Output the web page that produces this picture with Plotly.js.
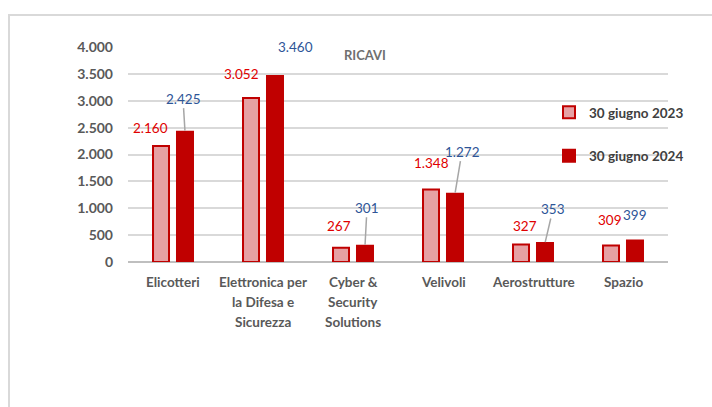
<!DOCTYPE html>
<html><head><meta charset="utf-8">
<script src="https://cdn.plot.ly/plotly-3.0.1.min.js"></script>
<style>
html,body{margin:0;padding:0;background:#fff;overflow:hidden}
#frame{position:absolute;left:8px;top:14px;width:720px;height:410px;border:2px solid #d9d9d9;box-sizing:border-box}
#chart{position:absolute;left:0;top:0;width:712px;height:407px}
</style></head>
<body><div id="frame"></div><div id="chart"></div>
<script>
const categories = ["Elicotteri", "Elettronica per la Difesa e Sicurezza", "Cyber & Security Solutions", "Velivoli", "Aerostrutture", "Spazio"];
const categoryLines = [["Elicotteri"], ["Elettronica per", "la Difesa e", "Sicurezza"], ["Cyber &", "Security", "Solutions"], ["Velivoli"], ["Aerostrutture"], ["Spazio"]];
const values2023 = [2160, 3052, 267, 1348, 327, 309];
const values2024 = [2425, 3460, 301, 1272, 353, 399];
const seriesNames = ["30 giugno 2023", "30 giugno 2024"];
const chartTitle = "RICAVI";

// label placement offsets (pixels) : [dx, dy, leaderLine]
const off2023 = [[-11,-18,false],[-10,-24,false],[-2,-22,false],[0,-27,false],[4,-18,false],[-1,-25,false]];
const off2024 = [[-2,-33,true],[20,-29,false],[2,-38,true],[7,-42,true],[8,-34,true],[0,-26,false]];

function fmt(v){ return String(v).replace(/\B(?=(\d{3})+(?!\d))/g, '.'); }

const FONT = "Lato, 'Open Sans', sans-serif";
const traces = [
  {type:'bar', name:seriesNames[0], x:categories, y:values2023, legendgroup:'a',
   marker:{color:'#E6A1A4', line:{color:'#C00000', width:2}}, hoverinfo:'skip'},
  {type:'bar', name:seriesNames[1], x:categories, y:values2024, legendgroup:'b',
   marker:{color:'#C00000', line:{color:'#C00000', width:2}}, hoverinfo:'skip'}
];

const annotations = [];
const barShift = 12;
categories.forEach((c,i)=>{
  [[values2023, off2023, -barShift, '#E00000'],[values2024, off2024, barShift, '#2E5597']].forEach(([vals, offs, xs, col])=>{
    const o = offs[i];
    if (o[2]) {
      annotations.push({x:c, y:vals[i], xref:'x', yref:'y', xshift:xs, text:fmt(vals[i]),
        showarrow:true, arrowhead:0, arrowwidth:1.5, arrowcolor:'#A6A6A6', ax:o[0], ay:o[1], standoff:1,
        font:{family:FONT, size:13.5, color:col}});
    } else {
      annotations.push({x:c, y:vals[i], xref:'x', yref:'y', xshift:xs+o[0], yshift:-o[1], text:fmt(vals[i]),
        showarrow:false, xanchor:'center', yanchor:'middle',
        font:{family:FONT, size:13.5, color:col}});
    }
  });
  categoryLines[i].forEach((ln,k)=>{
    annotations.push({x:c, y:0, xref:'x', yref:'y', yshift:-20-20*k, text:'<b>'+ln+'</b>', showarrow:false,
      xanchor:'center', yanchor:'middle', font:{family:FONT, size:13.5, color:'#595959'}});
  });
});
annotations.push({x:(365-128)/540, y:(262-55)/215, xref:'paper', yref:'paper', text:'<b>'+chartTitle+'</b>', showarrow:false,
  xanchor:'center', yanchor:'middle', font:{family:FONT, size:13, color:'#6F6F6F'}});

const layout = {
  width:712, height:407,
  margin:{l:128, r:44, t:47, b:145},
  paper_bgcolor:'rgba(0,0,0,0)', plot_bgcolor:'rgba(0,0,0,0)',
  separators:',.',
  barmode:'group', bargap:0.467, bargroupgap:0.333,
  showlegend:true,
  legend:{x:(549-128)/540, xanchor:'left', y:(262-97)/215, yanchor:'top', tracegroupgap:23,
    font:{family:FONT, size:13.5, color:'#404040', weight:'bold'}, bgcolor:'rgba(0,0,0,0)', itemwidth:30},
  xaxis:{type:'category', showticklabels:false, ticks:'', showgrid:false, zeroline:false, showline:false, fixedrange:true},
  yaxis:{range:[0,4000], dtick:500, tickformat:',d', showgrid:true, gridcolor:'#D9D9D9', gridwidth:2,
    zeroline:true, zerolinecolor:'#BFBFBF', zerolinewidth:2, ticks:'', ticklabelstandoff:14,
    tickfont:{family:FONT, size:14, color:'#595959', weight:'bold'}, fixedrange:true},
  annotations:annotations
};
Plotly.newPlot('chart', traces, layout, {displayModeBar:false, staticPlot:true});
</script></body></html>
